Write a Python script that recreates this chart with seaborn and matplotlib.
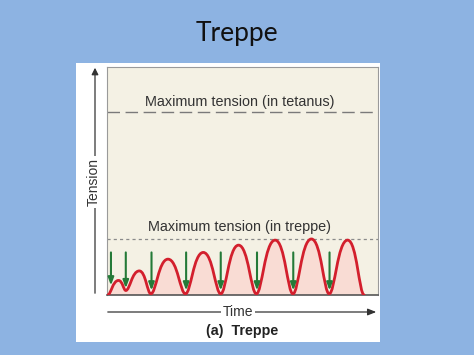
import matplotlib
matplotlib.use("Agg")
import matplotlib.pyplot as plt
from matplotlib.path import Path
from matplotlib.patches import PathPatch, Rectangle, FancyArrowPatch
import seaborn as sns
import pandas as pd

# ---- data ----
peak_t = [3.5, 9.8, 18.5, 29.2, 39.9, 51.0, 62.0, 73.0]
peak_y = [0.26, 0.43, 0.64, 0.76, 0.89, 0.98, 1.00, 0.98]
trough_t = [0.2, 5.7, 13.3, 23.8, 34.5, 45.3, 56.4, 67.4, 78.0]
trough_y = [0.0, 0.08, 0.02, 0.02, 0.02, 0.02, 0.02, 0.02, 0.0]
stim_t = [1.2, 5.7, 13.5, 24.0, 34.5, 45.5, 56.5, 67.5]
stim_top = 0.76
stim_tip = [0.17, 0.12, 0.08, 0.08, 0.08, 0.08, 0.08, 0.08]
max_tetanus = 3.27
max_treppe = 1.0
labels = {"tetanus": "Maximum tension (in tetanus)",
          "treppe": "Maximum tension (in treppe)"}

sns.set_theme(style="white")
plt.rcParams['font.family'] = ['Liberation Sans', 'DejaVu Sans']

W, H = 474, 355
fig = plt.figure(figsize=(W / 100, H / 100), dpi=100)
fig.patch.set_facecolor("#8DB3E2")

def fx(px):
    return px / W

def fy(py):
    return 1 - py / H

# white panel
fig.patches.append(Rectangle((fx(76), fy(342)), fx(380) - fx(76), fy(63) - fy(342),
                             transform=fig.transFigure, facecolor="white",
                             edgecolor="none", zorder=-10))

fig.text(fx(237), fy(33), "Treppe", ha="center", va="center", fontsize=19,
         family=["Lato", "DejaVu Sans"], color="#111111")

ax = fig.add_axes([fx(107), fy(295), fx(378) - fx(107), fy(67) - fy(295)])
ax.set_zorder(1)
ax.set_facecolor("#F4F1E4")
xmax = 82.2
ymax = 4.07
for s in ["top", "left", "right"]:
    ax.spines[s].set_color("#9a9a9a")
    ax.spines[s].set_linewidth(0.8)
ax.spines["bottom"].set_color("#555555")
ax.spines["bottom"].set_linewidth(1.2)

# dashed reference lines
df_tet = pd.DataFrame({"t": [0, xmax], "v": [max_tetanus, max_tetanus]})
df_tre = pd.DataFrame({"t": [0, xmax], "v": [max_treppe, max_treppe]})
sns.lineplot(data=df_tet, x="t", y="v", ax=ax, color="#7a7a7a", lw=1.0,
             linestyle=(0, (9, 4)))
sns.lineplot(data=df_tre, x="t", y="v", ax=ax, color="#8a8a8a", lw=0.9,
             linestyle=(0, (2.5, 2.5)))
ax.set_xlim(0, xmax)
ax.set_ylim(0, ymax)
ax.set_xticks([])
ax.set_yticks([])
ax.set_xlabel("")
ax.set_ylabel("")
ax.text(xmax / 2 - 0.8, max_tetanus + 0.18, labels["tetanus"], ha="center",
        va="center", fontsize=10.4, color="#333333")
ax.text(xmax / 2 - 0.8, max_treppe + 0.21, labels["treppe"], ha="center",
        va="center", fontsize=10.4, color="#333333")

# twitch curve from extremes (smooth Bezier between successive extremes;
# peaks rounder than troughs)
pts = []
for i in range(len(trough_t)):
    pts.append((trough_t[i], trough_y[i], "t"))
    if i < len(peak_t):
        pts.append((peak_t[i], peak_y[i], "p"))
verts = [pts[0][:2]]
codes = [Path.MOVETO]
k_peak, k_trough = 0.55, 0.3
for (x0, y0, c0), (x1, y1, c1) in zip(pts[:-1], pts[1:]):
    d = x1 - x0
    k0 = k_peak if c0 == "p" else k_trough
    k1 = k_peak if c1 == "p" else k_trough
    verts += [(x0 + k0 * d, y0), (x1 - k1 * d, y1), (x1, y1)]
    codes += [Path.CURVE4] * 3
fill_verts = verts + [(pts[-1][0], 0), (pts[0][0], 0), pts[0][:2]]
fill_codes = codes + [Path.LINETO, Path.LINETO, Path.CLOSEPOLY]
ax.add_patch(PathPatch(Path(fill_verts, fill_codes), facecolor="#F9DCD4",
                       edgecolor="none", zorder=2))
ax.add_patch(PathPatch(Path(verts, codes), facecolor="none",
                       edgecolor="#D31F2D", lw=2.0, zorder=3,
                       capstyle="round", joinstyle="round"))

# stimulus arrows
for t, tip in zip(stim_t, stim_tip):
    ax.annotate("", xy=(t, tip), xytext=(t, stim_top),
                arrowprops=dict(arrowstyle="-|>,head_length=0.38,head_width=0.14",
                                color="#247A38", lw=1.5, shrinkA=0, shrinkB=0),
                zorder=4)

# Tension axis arrow
fig.add_artist(FancyArrowPatch(
    (fx(95), fy(296)), (fx(95), fy(65)), transform=fig.transFigure,
    arrowstyle="-|>,head_length=4,head_width=2", color="#333333", lw=0.9))
fig.text(fx(94), fy(182), "Tension", rotation=90, ha="center", va="center",
         fontsize=10, color="#333333",
         bbox=dict(facecolor="white", edgecolor="none", pad=1.5))

# Time axis arrow
fig.add_artist(FancyArrowPatch(
    (fx(105), fy(312)), (fx(379), fy(312)), transform=fig.transFigure,
    arrowstyle="-|>,head_length=5,head_width=2", color="#333333", lw=0.9))
fig.text(fx(238), fy(312), "Time", ha="center", va="center",
         fontsize=10, color="#333333",
         bbox=dict(facecolor="white", edgecolor="none", pad=1.5))

fig.text(fx(242), fy(331), "(a)  Treppe", ha="center", va="center",
         fontsize=10.3, fontweight="bold", color="#222222")

fig.savefig("out.png", dpi=100, facecolor=fig.get_facecolor())
